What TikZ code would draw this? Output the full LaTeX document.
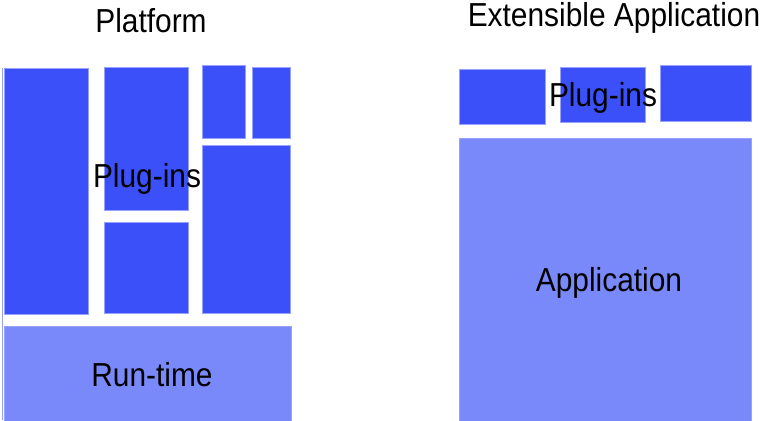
\documentclass[tikz,border=0pt]{standalone}
\usepackage{fontspec}
\setmainfont{Liberation Sans}
\usepackage{graphicx}
\usetikzlibrary{calc}

\definecolor{plugblue}{RGB}{59,80,248}
\definecolor{baseblue}{RGB}{122,137,250}
\definecolor{edgeblue}{RGB}{150,162,252}
\newcommand{\tallfont}[1]{\scalebox{0.98}[1.09]{#1}}

\begin{document}
\begin{tikzpicture}[x=1pt, y=-1pt,
    plugin/.style={fill=plugblue, draw=edgeblue, line width=0.6pt},
    base/.style={fill=baseblue, draw=edgeblue, line width=0.6pt},
    label/.style={anchor=base, inner sep=0pt, font=\fontsize{30.5}{32}\selectfont}]
    \useasboundingbox (0,0) rectangle (765,420);

    % Platform: plug-ins on top of the run-time
    \draw[plugin] (4,68) rectangle (88,314);
    \draw[plugin] (104,67) rectangle (188,210);
    \draw[plugin] (104,222) rectangle (188,313);
    \draw[plugin] (202,65) rectangle (245,138);
    \draw[plugin] (252,67) rectangle (290,138);
    \draw[plugin] (202,145) rectangle (290,313);
    \draw[base] (4,326) rectangle (291,421);
    \draw[edgeblue, line width=1pt] (2.5,68) -- (2.5,420);

    % Extensible application: plug-ins on top of the application
    \draw[plugin] (459,69) rectangle (545,124);
    \draw[plugin] (560,67) rectangle (645,122);
    \draw[plugin] (660,65) rectangle (751,121);
    \draw[base] (459,138) rectangle (751,421);

    % Labels
    \node[label] (platform) at (151,33) {\tallfont{Platform}};
    \node[label] (extapp) at (614,27) {\tallfont{Extensible Application}};
    \node[label] (pluginsL) at (147,187) {\tallfont{Plug-ins}};
    \node[label] (runtime) at (152,386) {\tallfont{Run-time}};
    \node[label] (pluginsR) at (603,106) {\tallfont{Plug-ins}};
    \node[label] (application) at (609,291) {\tallfont{Application}};
\end{tikzpicture}
\end{document}
